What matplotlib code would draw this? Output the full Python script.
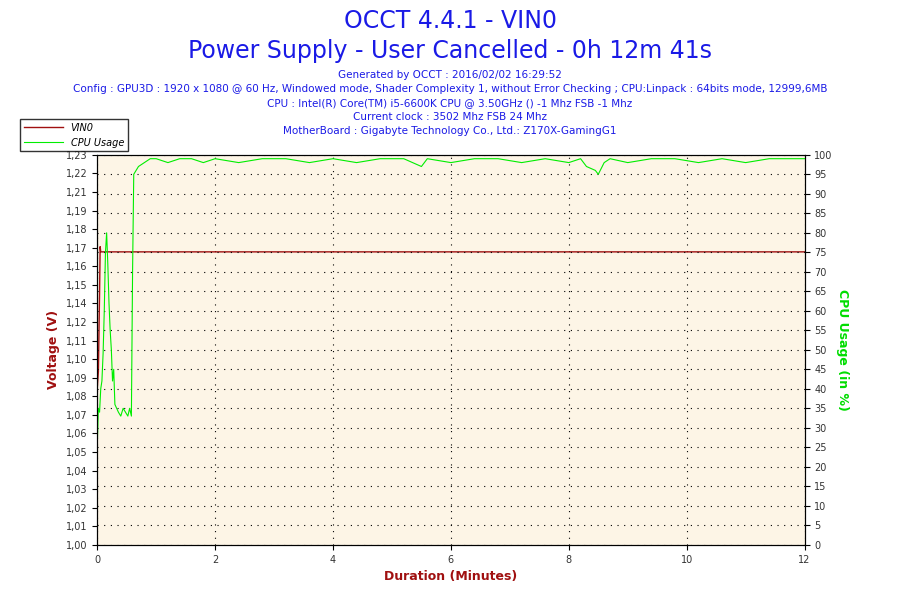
import matplotlib
matplotlib.use("Agg")
import matplotlib.pyplot as plt
import numpy as np

v_time = [0.0, 0.02, 0.04, 0.05, 0.06, 12.0]
v_vals = [1.09, 1.10, 1.145, 1.172, 1.169, 1.169]

cpu_time = [0.0, 0.02, 0.04, 0.06, 0.08, 0.10, 0.12, 0.14, 0.16, 0.18, 0.20, 0.22, 0.24, 0.26, 0.28,
            0.30, 0.33, 0.36, 0.40, 0.44, 0.48, 0.52, 0.55, 0.58, 0.60, 0.62, 0.66, 0.70, 0.80, 0.90,
            1.0, 1.2, 1.4, 1.6, 1.8, 2.0, 2.4, 2.8, 3.2, 3.6, 4.0, 4.4, 4.8, 5.2, 5.5, 5.6, 6.0, 6.4,
            6.8, 7.2, 7.6, 8.0, 8.2, 8.3, 8.45, 8.5, 8.6, 8.7, 9.0, 9.4, 9.8, 10.2, 10.6, 11.0, 11.4, 11.8, 12.0]
cpu_vals = [25, 35, 34, 40, 42, 49, 60, 75, 80, 72, 62, 55, 50, 42, 45,
            36, 35, 34, 33, 35, 34, 33, 35, 33, 70, 95, 96, 97, 98, 99,
            99, 98, 99, 99, 98, 99, 98, 99, 99, 98, 99, 98, 99, 99, 97, 99, 98, 99,
            99, 98, 99, 98, 99, 97, 96, 95, 98, 99, 98, 99, 99, 98, 99, 98, 99, 99, 99]

left_labels = ["1,00", "1,01", "1,02", "1,03", "1,04", "1,05", "1,06", "1,07", "1,08", "1,09", "1,10",
               "1,11", "1,12", "1,14", "1,15", "1,16", "1,17", "1,18", "1,19", "1,21", "1,22", "1,23"]
right_ticks = list(range(0, 101, 5))
x_ticks = [0, 2, 4, 6, 8, 10, 12]

fig = plt.figure(figsize=(9, 6), dpi=100)
ax = fig.add_axes([0.108, 0.092, 0.786, 0.65])
ax.set_facecolor("#FDF5E6")
ymin, ymax = 1.0, 1.225
ax.set_ylim(ymin, ymax)
ax.set_xlim(0, 12)
lv, = ax.plot(v_time, v_vals, color="#A01010", lw=1, label="VIN0", zorder=3)
ax.set_yticks(np.linspace(ymin, ymax, len(left_labels)))
ax.set_yticklabels(left_labels, fontsize=7, color="#333333")
ax.set_xticks(x_ticks)
ax.set_xticklabels([str(t) for t in x_ticks], fontsize=7, color="#333333")
ax.grid(True, axis="x", color="black", linestyle=(0, (1, 5)), lw=0.8)
ax.set_ylabel("Voltage (V)", color="#A01010", fontsize=9, fontweight="bold")
ax.set_xlabel("Duration (Minutes)", color="#A01010", fontsize=9, fontweight="bold")

ax2 = ax.twinx()
ax2.set_ylim(0, 100)
lc, = ax2.plot(cpu_time, cpu_vals, color="#00EE00", lw=0.8, label="CPU Usage")
ax2.set_yticks(right_ticks)
ax2.set_yticklabels([str(t) for t in right_ticks], fontsize=7, color="#333333")
ax2.grid(True, axis="y", color="black", linestyle=(0, (1, 5)), lw=0.8)
ax2.set_ylabel("CPU Usage (in %)", color="#00DD00", fontsize=9, fontweight="bold", rotation=270, labelpad=12)
ax2.set_xlim(0, 12)

fig.legend(handles=[lv, lc], loc="upper left", bbox_to_anchor=(0.017, 0.81),
           prop={"style": "italic", "size": 7}, frameon=True, fancybox=False, edgecolor="black", handlelength=4)

blue = "#1A1AE6"
fig.text(0.5, 0.965, "OCCT 4.4.1 - VIN0", ha="center", va="center", fontsize=17, color=blue)
fig.text(0.5, 0.915, "Power Supply - User Cancelled - 0h 12m 41s", ha="center", va="center", fontsize=17, color=blue)
lines = ["Generated by OCCT : 2016/02/02 16:29:52",
         "Config : GPU3D : 1920 x 1080 @ 60 Hz, Windowed mode, Shader Complexity 1, without Error Checking ; CPU:Linpack : 64bits mode, 12999,6MB",
         "CPU : Intel(R) Core(TM) i5-6600K CPU @ 3.50GHz () -1 Mhz FSB -1 Mhz",
         "Current clock : 3502 Mhz FSB 24 Mhz",
         "MotherBoard : Gigabyte Technology Co., Ltd.: Z170X-GamingG1"]
for i, t in enumerate(lines):
    fig.text(0.5, 0.875 - i * 0.0235, t, ha="center", va="center", fontsize=7.5, color=blue)

fig.savefig("out.png", dpi=100)
